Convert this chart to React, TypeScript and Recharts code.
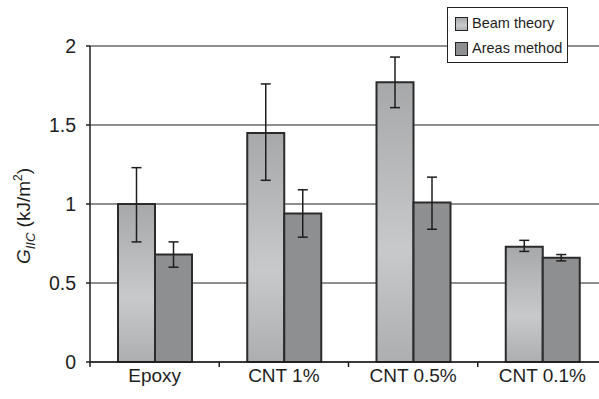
import React from 'react'
import { Bar, BarChart, CartesianGrid, ErrorBar, Label, XAxis, YAxis } from 'recharts'

const categories = ['Epoxy', 'CNT 1%', 'CNT 0.5%', 'CNT 0.1%']
const seriesNames = ['Beam theory', 'Areas method']

const beamTheory = [1.0, 1.45, 1.77, 0.73]
const beamLow = [0.76, 1.15, 1.61, 0.7]
const beamHigh = [1.23, 1.76, 1.93, 0.77]

const areasMethod = [0.68, 0.94, 1.01, 0.66]
const areasLow = [0.6, 0.79, 0.84, 0.64]
const areasHigh = [0.76, 1.09, 1.17, 0.68]

const yTicks = [0, 0.5, 1, 1.5, 2]

const data = categories.map((name, i) => ({
  name,
  beam: beamTheory[i],
  beamErr: [beamTheory[i] - beamLow[i], beamHigh[i] - beamTheory[i]],
  areas: areasMethod[i],
  areasErr: [areasMethod[i] - areasLow[i], areasHigh[i] - areasMethod[i]],
}))

const font = '"Liberation Sans", Arial, sans-serif'
const ink = '#1e1e1e'

const XTick = (props: any) => {
  const { x, y, payload } = props
  const left = x - (payload.offset || 0)
  return (
    <g>
      <line x1={left} x2={left} y1={y} y2={y + 5} stroke={ink} strokeWidth={1.5} />
      <text x={x} y={y + 20} textAnchor="middle" fontSize={19} fill={ink} fontFamily={font}>
        {payload.value}
      </text>
    </g>
  )
}

const YLabel = (props: any) => {
  const vb = props.viewBox || { x: 0, y: 0, width: 0, height: 0 }
  const cx = 30
  const cy = vb.y + vb.height / 2 + 12
  return (
    <text
      x={cx}
      y={cy}
      transform={`rotate(-90, ${cx}, ${cy})`}
      textAnchor="middle"
      fontSize={19}
      fill={ink}
      fontFamily={font}
    >
      <tspan fontStyle="italic">G</tspan>
      <tspan fontStyle="italic" fontSize={13} dy={5}>IIC</tspan>
      <tspan dy={-5}> (kJ/m</tspan>
      <tspan fontSize={12} dy={-8}>2</tspan>
      <tspan dy={8}>)</tspan>
    </text>
  )
}

const swatch = (kind: string) => ({
  display: 'inline-block',
  width: 11,
  height: 12,
  border: '1.5px solid #222',
  background:
    kind === 'beam' ? 'linear-gradient(#a8a9ab, #c9cacc 60%, #b0b1b3)' : '#8d8e90',
  marginRight: 4,
  verticalAlign: 'middle',
})

const App = () => {
  return (
    <div style={{ position: 'absolute', left: 0, top: 0, width: 599, height: 399, overflow: 'hidden', background: '#fff' }}>
      <BarChart
        width={610}
        height={399}
        data={data}
        margin={{ top: 46, right: 3, bottom: 0, left: 0 }}
        barGap={0}
        barSize={37}
      >
        <defs>
          <linearGradient id="beamFill" x1="0" y1="0" x2="0" y2="1">
            <stop offset="0%" stopColor="#a7a8aa" />
            <stop offset="60%" stopColor="#c8c9cb" />
            <stop offset="100%" stopColor="#adaeb0" />
          </linearGradient>
        </defs>
        <CartesianGrid vertical={false} stroke="#6a6a6a" strokeWidth={1.5} />
        <XAxis
          dataKey="name"
          height={37}
          axisLine={{ stroke: ink, strokeWidth: 1.5 }}
          tickLine={false}
          tickSize={0}
          tickMargin={0}
          tick={<XTick />}
          interval={0}
        />
        <YAxis
          width={90}
          domain={[0, 2]}
          ticks={yTicks}
          interval={0}
          axisLine={{ stroke: ink, strokeWidth: 1.5 }}
          tickLine={{ stroke: ink, strokeWidth: 1.5 }}
          tickSize={4}
          tickMargin={10}
          tick={{ fill: ink, fontSize: 19.5, fontFamily: font }}
        >
          <Label content={<YLabel />} />
        </YAxis>
        <Bar dataKey="beam" name={seriesNames[0]} fill="url(#beamFill)" stroke="#2b2b2b" strokeWidth={2} isAnimationActive={false}>
          <ErrorBar dataKey="beamErr" width={5} stroke={ink} strokeWidth={1.5} direction="y" />
        </Bar>
        <Bar dataKey="areas" name={seriesNames[1]} fill="#8e8f91" stroke="#2b2b2b" strokeWidth={2} isAnimationActive={false}>
          <ErrorBar dataKey="areasErr" width={5} stroke={ink} strokeWidth={1.5} direction="y" />
        </Bar>
      </BarChart>
      <div
        style={{
          position: 'absolute',
          left: 447,
          top: 7,
          width: 121,
          height: 56,
          border: '1.5px solid #222',
          background: '#fff',
          fontFamily: font,
          fontSize: 14.5,
          color: ink,
          paddingLeft: 7,
          boxSizing: 'border-box',
        }}
      >
        {seriesNames.map((s, i) => (
          <div key={s} style={{ height: 25, lineHeight: '25px', marginTop: i === 0 ? 3 : 0, whiteSpace: 'nowrap' }}>
            <span style={swatch(i === 0 ? 'beam' : 'areas')} />
            {s}
          </div>
        ))}
      </div>
    </div>
  )
}

export default App
